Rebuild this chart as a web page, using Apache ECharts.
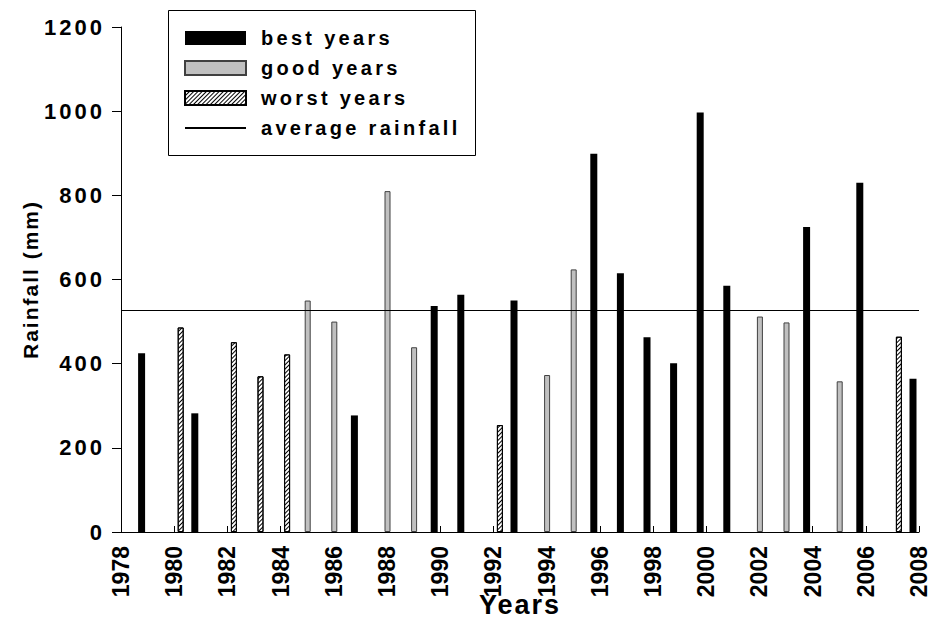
<!DOCTYPE html>
<html>
<head>
<meta charset="utf-8">
<script src="https://cdn.jsdelivr.net/npm/echarts@6/dist/echarts.min.js"></script>
<style>
html,body{margin:0;padding:0;background:#fff;}
#chart{width:928px;height:618px;}
</style>
</head>
<body>
<div id="chart"></div>
<script>
// ---- data ----
const years = ['1978','1979','1980','1981','1982','1983','1984','1985','1986','1987','1988','1989','1990','1991','1992','1993','1994','1995','1996','1997','1998','1999','2000','2001','2002','2003','2004','2005','2006','2007','2008'];
const bestYears  = [null,425,null,282,null,null,null,null,null,277,null,null,537,564,null,550,null,null,899,615,463,401,997,585,null,null,725,null,830,null,364];
const goodYears  = [null,null,null,null,null,null,null,550,500,null,810,439,null,null,null,null,373,624,null,null,null,null,null,null,512,498,null,358,null,null,null];
const worstYears = [null,null,486,null,451,370,422,null,null,null,null,null,null,null,254,null,null,null,null,null,null,null,null,null,null,null,null,null,null,464,null];
const averageRainfall = 528;
const yMin = 0, yMax = 1200, yStep = 200;
const seriesNames = ['best years','good years','worst years','average rainfall'];

const FONT = '"Liberation Sans", Arial, sans-serif';
const chart = echarts.init(document.getElementById('chart'), null, {renderer: 'svg'});

const option = {
  animation: false,
  backgroundColor: '#ffffff',
  grid: {left: 121, right: 9, top: 27, bottom: 86, containLabel: false, outerBoundsMode: 'none'},
  graphic: [{
    type: 'rect', z: 100,
    shape: {x: 168.5, y: 10.5, width: 307, height: 145},
    style: {fill: 'none', stroke: '#000', lineWidth: 1}
  }],
  legend: {
    orient: 'vertical', left: 168, top: 10,
    padding: [18, 0, 0, 16],
    itemWidth: 61, itemHeight: 14, itemGap: 10,
    selectedMode: false,
    textStyle: {fontFamily: FONT, fontSize: 20, fontWeight: 'bold', color: '#000', lineHeight: 20, padding: [0, 0, 0, 10]},
    data: [
      {name: seriesNames[0], icon: 'rect'},
      {name: seriesNames[1], icon: 'rect'},
      {name: seriesNames[2], icon: 'rect'},
      {name: seriesNames[3], itemStyle: {opacity: 0}}
    ]
  },
  xAxis: {
    type: 'category', data: years, boundaryGap: false,
    name: 'Years', nameLocation: 'middle', nameGap: 59, nameMoveOverlap: false,
    nameTextStyle: {fontFamily: FONT, fontSize: 27, fontWeight: 'bold', color: '#000'},
    axisLine: {lineStyle: {color: '#000', width: 1}},
    axisTick: {inside: true, length: 6, interval: 1, lineStyle: {color: '#000'}},
    axisLabel: {interval: 1, rotate: 90, margin: 14, fontFamily: FONT, fontSize: 23, fontWeight: 'bold', color: '#000'},
    splitLine: {show: false}
  },
  yAxis: {
    type: 'value', min: yMin, max: yMax, interval: yStep,
    name: 'Rainfall (mm)', nameLocation: 'middle', nameGap: 80, nameMoveOverlap: false,
    nameTextStyle: {fontFamily: FONT, fontSize: 21, fontWeight: 'bold', color: '#000'},
    axisLine: {show: true, lineStyle: {color: '#000', width: 1}},
    axisTick: {show: true, length: 9, lineStyle: {color: '#000'}},
    axisLabel: {margin: 16, fontFamily: FONT, fontSize: 22, fontWeight: 'bold', color: '#000',
      formatter: v => String(v)},
    splitLine: {show: false}
  },
  series: [
    {
      name: seriesNames[0], type: 'bar', data: bestYears,
      barWidth: 7, barGap: '0%',
      itemStyle: {color: '#000000'}
    },
    {
      name: seriesNames[1], type: 'bar', data: goodYears,
      barWidth: 6, barGap: '0%',
      itemStyle: {color: '#c0c0c0', borderColor: '#404040', borderWidth: 1}
    },
    {
      name: seriesNames[2], type: 'bar', data: worstYears,
      barWidth: 6, barGap: '0%',
      itemStyle: {
        color: '#ffffff', borderColor: '#000', borderWidth: 1,
        decal: {symbol: 'rect', symbolSize: 1, color: '#000', dashArrayX: [1, 0], dashArrayY: [1, 2], rotation: -Math.PI / 4}
      }
    },
    {
      name: seriesNames[3], type: 'line', data: [],
      symbol: 'none',
      lineStyle: {color: '#000', width: 1},
      itemStyle: {color: '#000'},
      markLine: {
        silent: true, symbol: ['none', 'none'],
        label: {show: false},
        lineStyle: {color: '#000', width: 1, type: 'solid'},
        data: [{yAxis: averageRainfall}]
      }
    }
  ]
};

function spaceText() {
  const map = {20: 3.3, 21: 2, 22: 3, 27: 2};
  document.querySelectorAll('#chart text').forEach(t => {
    const fs = Math.round(parseFloat(getComputedStyle(t).fontSize));
    if (map[fs] !== undefined) t.style.letterSpacing = map[fs] + 'px';
  });
}
chart.on('finished', spaceText);
chart.setOption(option);
spaceText();
setTimeout(spaceText, 50);
</script>
</body>
</html>
